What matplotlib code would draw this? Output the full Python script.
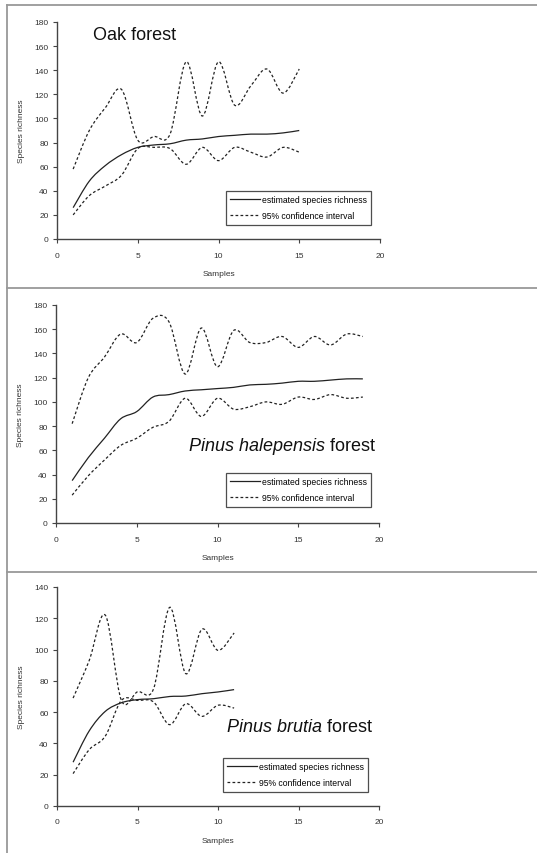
import numpy as np
import matplotlib
matplotlib.use('Agg')
import matplotlib.pyplot as plt
from matplotlib.path import Path
from matplotlib.patches import PathPatch
from matplotlib.lines import Line2D

plt.rcParams['font.family'] = ['Liberation Sans', 'DejaVu Sans']

# Oak forest
oak_samples = list(range(1, 16))
oak_est = [26, 48, 61, 70, 76, 78, 79, 82, 83, 85, 86, 87, 87, 88, 90]
oak_upper = [58, 90, 109, 124, 82, 85, 87, 147, 102, 147, 111, 127, 141, 121, 141]
oak_lower = [20, 36, 44, 53, 75, 76, 75, 62, 76, 65, 76, 72, 68, 76, 72]

# Pinus halepensis forest
hal_samples = list(range(1, 20))
hal_est = [35, 54, 70, 86, 92, 104, 106, 109, 110, 111, 112, 114, 114.5, 115.5,
           117, 117, 118, 119, 119]
hal_upper = [82, 120, 137, 156, 149, 169, 166, 123, 161, 129, 159, 149, 149, 154,
             145, 154, 147, 156, 154]
hal_lower = [23, 39, 52, 64, 70, 79, 84, 103, 88, 103, 94, 96, 100, 98, 104, 102,
             106, 103, 104]

# Pinus brutia forest
bru_samples = list(range(1, 12))
bru_est = [28, 48, 60.5, 66, 68, 68.6, 70, 70.3, 71.8, 72.9, 74.4]
bru_upper = [69, 93, 122, 67.5, 73, 75, 127, 84.6, 113, 99.5, 110.6]
bru_lower = [20.7, 36, 44.7, 67.5, 67.5, 66.5, 52, 65.4, 57.3, 64.4, 62.6]

W, H = 537, 854
LINE = '#222222'


def px(x, y):
    return x / W, 1 - y / H


def smooth_path(x, y):
    # Excel-like smoothed line: cubic Bezier through the data points
    pts = np.column_stack([x, y]).astype(float)
    n = len(pts)
    verts = [pts[0]]
    codes = [Path.MOVETO]
    for i in range(n - 1):
        p0 = pts[i - 1] if i > 0 else pts[i]
        p1 = pts[i]
        p2 = pts[i + 1]
        p3 = pts[i + 2] if i + 2 < n else pts[i + 1]
        c1 = p1 + (p2 - p0) / 6.0
        c2 = p2 - (p3 - p1) / 6.0
        verts += [c1, c2, p2]
        codes += [Path.CURVE4] * 3
    return Path(verts, codes)


def draw_panel(ax, samples, est, upper, lower, ymax, title_parts, title_xy, legend_xy):
    ax.add_patch(PathPatch(smooth_path(samples, est), fill=False, edgecolor=LINE, lw=0.9))
    for s in (upper, lower):
        ax.add_patch(PathPatch(smooth_path(samples, s), fill=False, edgecolor=LINE,
                               lw=0.9, linestyle=(0, (2.2, 1.8))))
    ax.set_xlim(0, 20)
    ax.set_ylim(0, ymax)
    ax.set_xticks(range(0, 21, 5))
    ax.set_yticks(range(0, ymax + 1, 20))
    for side in ('top', 'right'):
        ax.spines[side].set_visible(False)
    for side in ('left', 'bottom'):
        ax.spines[side].set_color('#444444')
        ax.spines[side].set_linewidth(1.0)
    ax.tick_params(axis='both', labelsize=6, colors='#444444', labelcolor='#333333',
                   length=3, width=0.8, direction='out')
    ax.tick_params(axis='x', pad=6)
    ax.tick_params(axis='y', pad=3)
    ax.set_xlabel('Samples', fontsize=6, color='#333333', labelpad=8)
    ax.set_ylabel('Species richness', fontsize=6, color='#333333', labelpad=7)

    # title made of regular / italic pieces
    fig = ax.figure
    x0, y0 = px(*title_xy)
    t = None
    for txt, style in title_parts:
        if t is None:
            t = fig.text(x0, y0, txt, fontsize=13, style=style, color='#111111',
                         ha='left', va='center')
        else:
            t = ax.annotate(txt, xycoords=t, xy=(1, 0), va='bottom', ha='left',
                            fontsize=13, style=style, color='#111111')

    handles = [Line2D([], [], color=LINE, lw=0.9),
               Line2D([], [], color=LINE, lw=0.9, linestyle=(0, (2.2, 1.8)))]
    leg = ax.legend(handles, ['estimated species richness', '95% confidence interval'],
                    loc='upper left', bbox_to_anchor=px(*legend_xy),
                    bbox_transform=fig.transFigure, fontsize=6.2, frameon=True,
                    fancybox=False, handlelength=3.4, borderaxespad=0,
                    borderpad=0.5, labelspacing=0.8, handletextpad=0.3)
    leg.get_frame().set_edgecolor('#222222')
    leg.get_frame().set_linewidth(0.9)


fig = plt.figure(figsize=(W / 100, H / 100), dpi=100)

ax1 = fig.add_axes([57 / W, 1 - 240 / H, 323 / W, 217 / H])
draw_panel(ax1, oak_samples, oak_est, oak_upper, oak_lower, 180,
           [('Oak forest', 'normal')], (93, 35), (226, 192))

ax2 = fig.add_axes([56 / W, 1 - 524 / H, 323 / W, 218 / H])
draw_panel(ax2, hal_samples, hal_est, hal_upper, hal_lower, 180,
           [('Pinus halepensis', 'italic'), (' forest', 'normal')], (189, 447), (226, 474))

ax3 = fig.add_axes([57 / W, 1 - 807 / H, 322 / W, 219 / H])
draw_panel(ax3, bru_samples, bru_est, bru_upper, bru_lower, 140,
           [('Pinus brutia', 'italic'), (' forest', 'normal')], (227, 728), (223, 759))

# chart area borders
border = dict(color='#999999', lw=1.3, transform=fig.transFigure)
for yy in (6, 289, 573):
    fig.add_artist(Line2D([7 / W, 1], [1 - yy / H, 1 - yy / H], **border))
fig.add_artist(Line2D([7 / W, 7 / W], [1 - 6 / H, 0], **border))

fig.savefig('out.png', dpi=100)
